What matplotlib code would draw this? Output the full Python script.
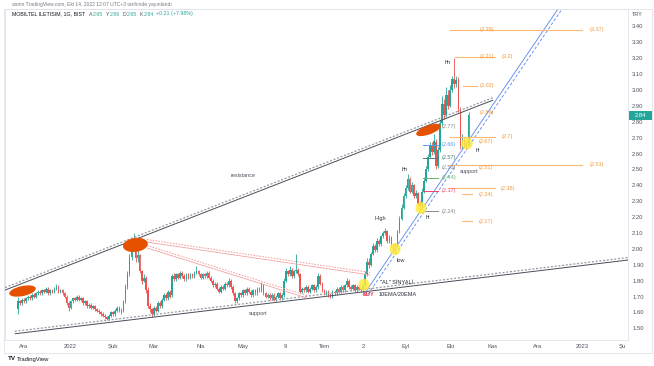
import matplotlib
matplotlib.use('Agg')
import matplotlib.pyplot as plt
from matplotlib.patches import Ellipse, Rectangle
from matplotlib.transforms import ScaledTranslation
import numpy as np

plt.rcParams['font.family'] = ['Liberation Sans', 'DejaVu Sans']

# ---------------- data (daily candles, MOBILTEL ILETISIM, BIST) ----------------
opens = [
1.62,1.67,1.66,1.68,1.67,1.69,1.70,1.69,1.71,1.70,
1.72,1.73,1.72,1.74,1.73,1.75,1.72,1.74,1.73,1.75,
1.76,1.73,1.74,1.72,1.70,1.66,1.63,1.67,1.69,1.68,
1.70,1.68,1.69,1.66,1.67,1.64,1.65,1.63,1.64,1.62,
1.61,1.60,1.59,1.58,1.57,1.56,1.58,1.60,1.59,1.61,
1.63,1.61,1.61,1.67,1.76,1.84,1.95,2.03,2.05,1.94,
1.96,1.86,1.80,1.82,1.74,1.64,1.62,1.59,1.63,1.61,
1.66,1.64,1.68,1.71,1.69,1.73,1.71,1.83,1.81,1.84,
1.82,1.85,1.83,1.81,1.84,1.82,1.84,1.83,1.85,1.86,
1.84,1.82,1.84,1.83,1.85,1.82,1.80,1.77,1.78,1.75,
1.73,1.76,1.75,1.78,1.77,1.80,1.76,1.72,1.67,1.69,
1.72,1.71,1.74,1.72,1.75,1.73,1.71,1.74,1.72,1.75,
1.74,1.77,1.72,1.70,1.71,1.69,1.71,1.68,1.70,1.72,
1.69,1.71,1.80,1.86,1.84,1.87,1.83,1.86,1.87,1.84,
1.73,1.75,1.74,1.76,1.73,1.75,1.77,1.74,1.76,1.83,
1.78,1.74,1.72,1.73,1.71,1.70,1.73,1.72,1.75,1.73,
1.76,1.74,1.77,1.80,1.76,1.75,1.77,1.74,1.76,1.75,
1.74,1.77,1.84,1.92,1.90,1.97,2.02,1.99,2.05,2.03,
2.08,2.10,2.11,2.05,2.07,2.02,1.99,2.03,2.11,2.19,
2.26,2.33,2.38,2.44,2.36,2.40,2.33,2.35,2.28,2.27,
2.36,2.43,2.50,2.58,2.65,2.61,2.67,2.52,2.62,2.79,
2.91,2.84,2.97,2.90,3.00,3.07,3.04,3.06,2.87,2.65,
2.68,2.66,2.65]
highs = [
1.70,1.68,1.69,1.69,1.70,1.71,1.71,1.72,1.72,1.73,
1.74,1.74,1.75,1.75,1.76,1.76,1.75,1.75,1.76,1.78,
1.77,1.75,1.75,1.73,1.71,1.67,1.68,1.70,1.70,1.71,
1.71,1.70,1.70,1.68,1.68,1.66,1.66,1.65,1.65,1.63,
1.62,1.61,1.60,1.59,1.58,1.59,1.61,1.61,1.62,1.64,
1.64,1.63,1.68,1.78,1.86,1.97,2.05,2.10,2.06,1.99,
1.97,1.87,1.84,1.83,1.76,1.66,1.63,1.64,1.64,1.67,
1.67,1.69,1.72,1.72,1.74,1.74,1.84,1.85,1.85,1.85,
1.86,1.86,1.84,1.85,1.85,1.85,1.85,1.86,1.89,1.87,
1.85,1.85,1.85,1.86,1.86,1.83,1.81,1.79,1.79,1.76,
1.77,1.77,1.79,1.79,1.82,1.81,1.77,1.73,1.70,1.73,
1.73,1.75,1.75,1.76,1.76,1.74,1.75,1.75,1.76,1.76,
1.79,1.78,1.73,1.72,1.72,1.72,1.72,1.71,1.73,1.73,
1.72,1.82,1.88,1.87,1.89,1.88,1.87,1.97,1.88,1.85,
1.76,1.76,1.77,1.77,1.76,1.78,1.78,1.77,1.85,1.84,
1.79,1.75,1.74,1.74,1.72,1.74,1.74,1.76,1.76,1.77,
1.77,1.78,1.82,1.81,1.77,1.78,1.78,1.77,1.77,1.76,
1.78,1.86,1.94,1.94,1.98,2.04,2.03,2.07,2.06,2.09,
2.11,2.13,2.12,2.09,2.08,2.03,2.04,2.12,2.21,2.28,
2.35,2.40,2.47,2.45,2.42,2.41,2.37,2.36,2.30,2.38,
2.45,2.52,2.60,2.67,2.67,2.72,2.69,2.64,2.81,2.96,
2.94,3.02,3.00,3.03,3.09,3.20,3.09,3.08,2.89,2.72,
2.70,2.68,2.86]
lows = [
1.59,1.65,1.65,1.66,1.66,1.68,1.68,1.68,1.69,1.69,
1.71,1.71,1.71,1.72,1.72,1.71,1.71,1.72,1.72,1.74,
1.72,1.72,1.71,1.69,1.65,1.61,1.62,1.66,1.67,1.67,
1.67,1.67,1.65,1.65,1.63,1.63,1.62,1.62,1.61,1.60,
1.59,1.58,1.57,1.56,1.55,1.55,1.57,1.58,1.58,1.60,
1.60,1.59,1.60,1.66,1.75,1.83,1.93,2.01,1.92,1.92,
1.85,1.78,1.79,1.72,1.63,1.60,1.57,1.58,1.60,1.60,
1.63,1.63,1.67,1.68,1.68,1.69,1.70,1.80,1.80,1.81,
1.81,1.82,1.80,1.80,1.81,1.81,1.82,1.82,1.84,1.83,
1.81,1.81,1.82,1.82,1.81,1.79,1.76,1.76,1.74,1.72,
1.72,1.74,1.74,1.76,1.76,1.75,1.71,1.66,1.66,1.68,
1.70,1.70,1.71,1.71,1.72,1.70,1.70,1.71,1.71,1.73,
1.73,1.71,1.69,1.69,1.68,1.68,1.67,1.67,1.69,1.68,
1.68,1.70,1.79,1.83,1.83,1.82,1.82,1.85,1.83,1.72,
1.72,1.73,1.73,1.72,1.72,1.74,1.73,1.73,1.75,1.77,
1.73,1.71,1.71,1.70,1.69,1.69,1.71,1.71,1.72,1.72,
1.73,1.73,1.76,1.75,1.74,1.74,1.73,1.73,1.74,1.73,
1.73,1.76,1.83,1.88,1.89,1.96,1.98,1.98,2.02,2.02,
2.07,2.09,2.04,2.04,2.01,1.98,1.98,2.02,2.10,2.18,
2.25,2.32,2.37,2.35,2.35,2.32,2.32,2.27,2.24,2.26,
2.35,2.42,2.49,2.57,2.59,2.60,2.50,2.51,2.61,2.77,
2.82,2.83,2.88,2.89,2.99,3.01,3.02,2.86,2.63,2.63,
2.64,2.62,2.65]
closes = [
1.67,1.66,1.68,1.67,1.69,1.70,1.69,1.71,1.70,1.72,
1.73,1.72,1.74,1.73,1.75,1.72,1.74,1.73,1.75,1.76,
1.73,1.74,1.72,1.70,1.66,1.63,1.67,1.69,1.68,1.70,
1.68,1.69,1.66,1.67,1.64,1.65,1.63,1.64,1.62,1.61,
1.60,1.59,1.58,1.57,1.56,1.58,1.60,1.59,1.61,1.63,
1.61,1.61,1.67,1.76,1.84,1.95,2.03,2.06,1.94,1.96,
1.86,1.80,1.82,1.74,1.64,1.62,1.59,1.63,1.61,1.66,
1.64,1.68,1.71,1.69,1.73,1.70,1.83,1.81,1.84,1.82,
1.85,1.83,1.81,1.84,1.82,1.84,1.83,1.85,1.86,1.84,
1.82,1.84,1.83,1.85,1.82,1.80,1.77,1.78,1.75,1.73,
1.76,1.75,1.78,1.77,1.80,1.76,1.72,1.67,1.69,1.72,
1.71,1.74,1.72,1.75,1.73,1.71,1.74,1.72,1.75,1.74,
1.77,1.72,1.70,1.71,1.69,1.71,1.68,1.70,1.72,1.69,
1.71,1.80,1.86,1.84,1.87,1.83,1.86,1.87,1.84,1.73,
1.75,1.74,1.76,1.73,1.75,1.77,1.74,1.76,1.83,1.78,
1.74,1.72,1.73,1.71,1.70,1.73,1.72,1.75,1.73,1.76,
1.74,1.77,1.80,1.76,1.75,1.77,1.74,1.76,1.75,1.74,
1.77,1.84,1.92,1.90,1.97,2.02,1.99,2.05,2.03,2.08,
2.10,2.11,2.05,2.07,2.02,1.99,2.03,2.11,2.19,2.26,
2.33,2.38,2.44,2.36,2.40,2.33,2.35,2.28,2.27,2.36,
2.43,2.50,2.58,2.65,2.61,2.68,2.52,2.62,2.79,2.91,
2.84,2.97,2.90,3.00,3.07,3.04,3.06,2.88,2.65,2.68,
2.66,2.63,2.84]

# time axis labels (bar index of first trading day shown, label)
time_tick_pos = [3, 26, 47, 67, 90, 111, 132, 151, 170, 191, 213, 234, 256, 278, 298]
time_tick_lab = ['Ara', '2022', 'Şub', 'Mar', 'Nis', 'May', '9', 'Tem', '2', 'Eyl',
                 'Eki', 'Kas', 'Ara', '2023', 'Şu']
price_ticks = [1.5, 1.6, 1.7, 1.8, 1.9, 2.0, 2.1, 2.2, 2.3, 2.4, 2.5, 2.6, 2.7, 2.8,
               2.9, 3.0, 3.1, 3.2, 3.3, 3.4]
last_price = 2.84

# drawings (bar index, price)
resistance = [(-6.3, 1.741), (234.1, 2.936)]
support = [(-1.5, 1.466), (300.6, 1.930)]
pink_upper = [(63.6, 2.043), (173.5, 1.836)]
pink_lower = [(63.6, 2.006), (142.4, 1.691)]
blue_solid = [(170.5, 1.714), (268.0, 3.545)]
blue_dash = [(172.5, 1.714), (270.0, 3.545)]

orange_levels = [  # price, start bar, end bar
    (3.377, 212.9, 277.9), (3.209, 215.3, 235.1), (3.026, 219.3, 226.2),
    (2.706, 212.9, 235.1), (2.530, 212.9, 277.9), (2.381, 212.9, 235.1),
    (2.345, 218.8, 223.7), (2.175, 218.8, 223.7)]
orange_labels = [
    ('(3.39)', 231.1, 3.377), ('(3.37)', 285.3, 3.377), ('(3.21)', 231.1, 3.209),
    ('(3.2)', 240.9, 3.209), ('(3.02)', 231.1, 3.026), ('(2.86)', 231.1, 2.857),
    ('(2.7)', 240.9, 2.706), ('(2.67)', 230.6, 2.677), ('(2.53)', 285.3, 2.530),
    ('(2.51)', 230.6, 2.515), ('(2.38)', 241.2, 2.381), ('(2.34)', 230.6, 2.345),
    ('(2.17)', 230.6, 2.175)]
side_labels = [  # text, price, colour, has short line
    ('(2.77)', 2.773, '#868993', False), ('(2.66)', 2.655, '#5b9cf6', True),
    ('(2.57)', 2.574, '#4d7f72', True), ('(2.50)', 2.509, '#868993', False),
    ('(2.44)', 2.446, '#5fb963', True), ('(2.37)', 2.366, '#f0456a', True),
    ('(2.24)', 2.237, '#868993', True)]
orange_blobs = [(2.3, 1.735, 27, 10, 12), (57.9, 2.025, 25, 14, 8), (202.3, 2.748, 26, 9, 20)]
yellow_blobs = [(170.5, 1.774), (185.8, 1.999), (198.6, 2.257), (221.3, 2.663)]
notes = [  # text, bar, price, colour, weight
    ('resistance', 110.9, 2.459, '#50535e', 'normal'),
    ('support', 118.3, 1.591, '#50535e', 'normal'),
    ('support', 222.2, 2.490, '#50535e', 'normal'),
    ('"AL" SİNYALİ', 186.6, 1.786, '#2a2e39', 'normal'),
    ('BUY', 172.9, 1.716, '#f23645', 'bold'),
    ('10EMA/20EMA', 187.0, 1.716, '#2a2e39', 'normal'),
    ('High', 178.6, 2.190, '#2a2e39', 'normal'),
    ('low', 188.7, 1.930, '#2a2e39', 'normal'),
    ('hh', 190.5, 2.497, '#2a2e39', 'normal'),
    ('hl', 202.0, 2.200, '#2a2e39', 'normal'),
    ('hh', 211.9, 3.175, '#2a2e39', 'normal'),
    ('hl', 226.7, 2.622, '#2a2e39', 'normal')]

# ---------------- figure ----------------
W, H = 654, 366
fig = plt.figure(figsize=(W / 100, H / 100), dpi=100)
fig.patch.set_facecolor('white')
ax = fig.add_axes([5 / W, 1 - 340 / H, 623 / W, 331 / H])
ax.set_xlim(-6.33, 300.57)
ax.set_ylim(1.427, 3.509)

UP, DN = '#26a69a', '#ef5350'
x = np.arange(len(closes))
o = np.array(opens); c = np.array(closes); hi = np.array(highs); lo = np.array(lows)
cols = np.where(c >= o, UP, DN)
ax.vlines(x, lo, hi, colors=cols, lw=0.6, zorder=2)
ax.bar(x, np.maximum(np.abs(c - o), 0.005), bottom=np.minimum(o, c), width=0.82,
       color=cols, lw=0, zorder=3)

off = 2.5 / 159.0


def pair(pts, c_solid, c_dash, lw_s=0.7, lw_d=0.9, dash=(1.6, 1.4)):
    (x0, y0), (x1, y1) = pts
    ax.plot([x0, x1], [y0, y1], color=c_solid, lw=lw_s, zorder=4, solid_capstyle='butt')
    ax.plot([x0, x1], [y0 + off, y1 + off], color=c_dash, lw=lw_d, zorder=4,
            dashes=dash)


pair(resistance, '#4a4d57', '#9598a1')
pair(support, '#4a4d57', '#9598a1')
pair(pink_upper, '#f4a3a3', '#f29a9a', lw_s=0.6, lw_d=0.7)
pair(pink_lower, '#f4a3a3', '#f29a9a', lw_s=0.6, lw_d=0.7)

ax.plot([p[0] for p in blue_solid], [p[1] for p in blue_solid], color='#6d93ec', lw=0.7, zorder=4)
ax.plot([p[0] for p in blue_dash], [p[1] for p in blue_dash], color='#6d93ec', lw=0.7,
        dashes=(3, 2), zorder=4)

OR_LINE, OR_TXT = '#ffb974', '#f39a3c'
for p, a, b in orange_levels:
    ax.plot([a, b], [p, p], color=OR_LINE, lw=0.8, zorder=4)
for s, i, p in orange_labels:
    ax.text(i, p, s, fontsize=4, color=OR_TXT, ha='center', va='center', zorder=6)
for s, p, col, has_line in side_labels:
    if has_line:
        ax.plot([199.6, 206.9], [p, p], color=col, lw=0.7, zorder=4)
    ax.text(212.4, p, s, fontsize=4, color=col, ha='center', va='center', zorder=6)

for i, p, w, h, ang in orange_blobs:
    ax.add_artist(Ellipse((0, 0), w, h, angle=ang, facecolor='#e65100', edgecolor='none',
                          transform=ScaledTranslation(i, p, ax.transData), zorder=5))
for i, p in yellow_blobs:
    ax.add_artist(Ellipse((0, 0), 11, 12, facecolor='#ffeb3b', edgecolor='none', alpha=0.85,
                          transform=ScaledTranslation(i, p, ax.transData), zorder=5))

for s, i, p, col, wt in notes:
    ax.text(i, p, s, fontsize=4, color=col, ha='center', va='center', fontweight=wt, zorder=6)

# axes styling
for sp in ax.spines.values():
    sp.set_color('#e0e3eb'); sp.set_linewidth(0.6)
ax.yaxis.tick_right()
ax.set_yticks(price_ticks)
ax.set_yticklabels(['%.2f' % v for v in price_ticks])
ax.tick_params(axis='y', length=0, pad=3, labelsize=4.2, labelcolor='#50535e')
ax.set_xticks(time_tick_pos)
ax.set_xticklabels(time_tick_lab)
ax.tick_params(axis='x', length=0, pad=3.2, labelsize=4.2, labelcolor='#50535e')

# outer pane border
fig.patches.append(Rectangle((4 / W, 1 - 353 / H), 648 / W, 344 / H, transform=fig.transFigure,
                             fill=False, ec='#e0e3eb', lw=0.6))

# last price tag
fig.canvas.draw()
yp = ax.transData.transform((0, last_price))[1]
fig.patches.append(Rectangle((629 / W, (yp - 4.3) / H), 23 / W, 8.6 / H, transform=fig.transFigure,
                             fc=UP, ec='none', zorder=10))
fig.text(640.5 / W, yp / H, '%.2f' % last_price, fontsize=4.2, color='white', ha='center',
         va='center', zorder=11)
fig.text(632 / W, 1 - 15 / H, 'TRY', fontsize=4, color='#50535e', ha='left', va='center')

# header
r = fig.canvas.get_renderer()
fig.text(12 / W, 1 - 4.5 / H, 'asmn TradingView.com, Eki 14, 2022 12:07 UTC+3 tarihinde yayınlandı',
         fontsize=3.6, color='#787b86', ha='left', va='center')
parts = [('MOBILTEL ILETISIM, 1G, BIST', '#131722'),
         ('A', '#50535e'), ('2.65', UP), ('Y', '#50535e'), ('2.86', UP),
         ('D', '#50535e'), ('2.65', UP), ('K', '#50535e'), ('2.84', UP),
         ('+0.21 (+7.98%)', UP)]
xp = 12.0
gaps = [4.0, 0.4, 2.5, 0.4, 2.5, 0.4, 2.5, 0.4, 2.5, 0]
for (s, col), g in zip(parts, gaps):
    t = fig.text(xp / W, 1 - 14 / H, s, fontsize=3.8, color=col, ha='left', va='center')
    bb = t.get_window_extent(renderer=r)
    xp += bb.width + g

# footer logo
fig.text(8 / W, 1 - 359 / H, 'TV', fontsize=4.5, color='#131722', fontweight='bold',
         ha='left', va='center')
fig.text(17 / W, 1 - 359 / H, 'TradingView', fontsize=4.2, color='#131722', ha='left', va='center')

fig.savefig('out.png', dpi=100, facecolor='white')
